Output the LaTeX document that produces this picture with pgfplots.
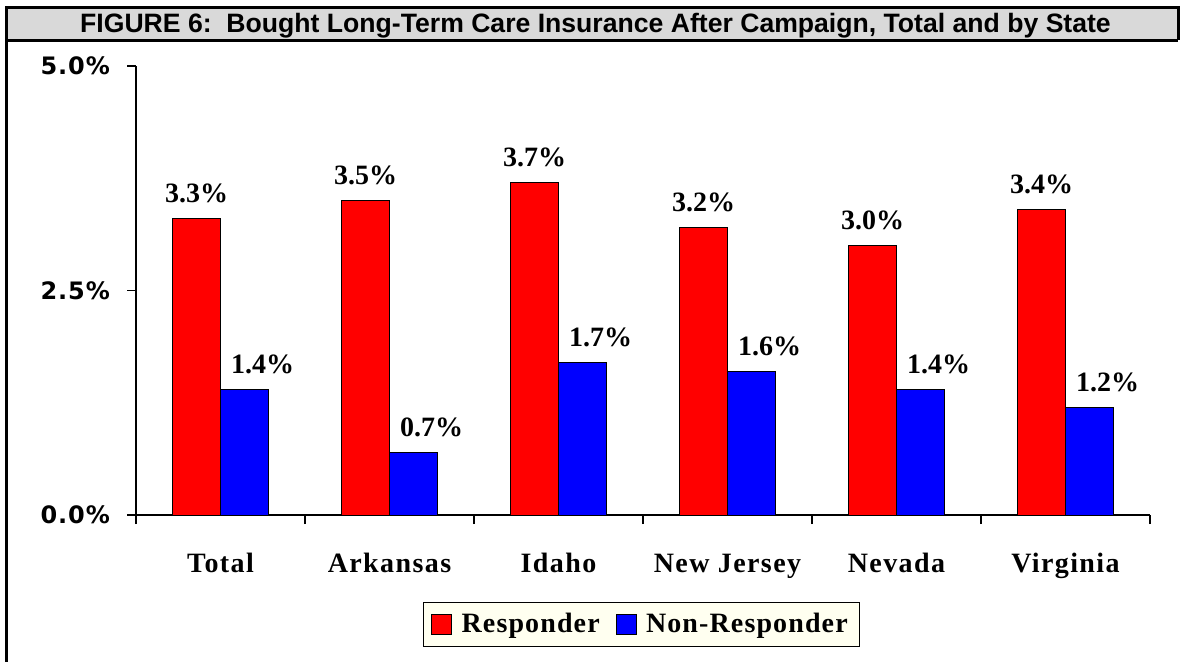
\documentclass[border=0pt]{standalone}
\usepackage{fontspec}
\setmainfont{Liberation Serif}
\newfontfamily\titlefont{Liberation Sans}
\newfontfamily\tickfont[LetterSpace=4]{DejaVu Sans}
\newfontfamily\catfont[LetterSpace=5]{Liberation Serif}
\newfontfamily\legfont[LetterSpace=4]{Liberation Serif}
\usepackage{pgfplots}
\pgfplotsset{compat=1.18}
\definecolor{titlegray}{HTML}{D9D9D9}
\definecolor{legcream}{HTML}{FFFFF0}
\definecolor{barred}{HTML}{FF0000}
\definecolor{barblue}{HTML}{0000FF}
\begin{document}
\begin{tikzpicture}
\useasboundingbox (0,0) rectangle (590bp,-331bp);
\fill[white] (0,0) rectangle (590bp,-331bp);
\fill[titlegray] (3bp,-3.5bp) rectangle (589bp,-20bp);
\draw[line width=1.5bp] (3bp,-331bp) -- (3bp,-3.5bp) -- (589bp,-3.5bp) -- (589bp,-20bp);
\draw[line width=1.5bp] (3bp,-20bp) -- (589bp,-20bp);
\node[anchor=base, font=\titlefont\bfseries\fontsize{13.3bp}{15bp}\selectfont, inner sep=0pt] at (297.75bp,-16bp) {FIGURE 6:~~Bought Long-Term Care Insurance After Campaign, Total and by State};
\begin{axis}[
  at={(68bp,-257.5bp)}, anchor=south west,
  width=507bp, height=224.5bp, scale only axis,
  xmin=-0.5, xmax=5.5, ymin=0, ymax=5,
  axis x line*=bottom, axis y line*=left,
  axis line style={-, line width=0.6bp},
  ytick={0,2.5,5}, yticklabels={0.0\%,2.5\%,5.0\%},
  yticklabel style={font=\tickfont\bfseries\fontsize{12bp}{14bp}\selectfont, xshift=-5bp},
  xtick={0,...,5}, xticklabels={Total,Arkansas,Idaho,New Jersey,Nevada,Virginia},
  major x tick style={draw=none},
  minor xtick={-0.5,0.5,...,5.5},
  tick align=outside, major tick length=4.5bp, minor tick length=4.5bp,
  tick style={black, line width=0.6bp},
  xticklabel style={font=\catfont\bfseries\fontsize{14bp}{16bp}\selectfont, anchor=base, yshift=-24bp},
  ybar=0pt, bar width=24bp,
  /pgf/number format/assume math mode=true,
  nodes near coords={\pgfmathprintnumber[fixed,fixed zerofill,precision=1]{\pgfplotspointmeta}\%},
  nodes near coords style={font=\bfseries\fontsize{14bp}{16bp}\selectfont, anchor=south, inner sep=0pt, yshift=7.5bp, black},
  legend style={at={(0.4985,-0.2439)}, anchor=center, draw=black, line width=0.6bp, fill=legcream, legend columns=2, inner ysep=3.5bp, inner xsep=4bp, font=\legfont\bfseries\fontsize{14bp}{16bp}\selectfont, /tikz/every even column/.append style={column sep=6bp}},
  legend image code/.code={\draw[#1, line width=0.4bp] (0bp,-5bp) rectangle (10bp,5bp); \path[draw=none, fill=none] (0bp,0bp) -- (13bp,0bp);},
]
\addplot[fill=barred, draw=black, line width=0.5bp] coordinates {(0,3.3) (1,3.5) (2,3.7) (3,3.2) (4,3.0) (5,3.4)};
\addplot[fill=barblue, draw=black, line width=0.5bp, every node near coord/.append style={xshift=9bp}] coordinates {(0,1.4) (1,0.7) (2,1.7) (3,1.6) (4,1.4) (5,1.2)};
\legend{Responder, Non-Responder}
\end{axis}
\end{tikzpicture}
\end{document}
